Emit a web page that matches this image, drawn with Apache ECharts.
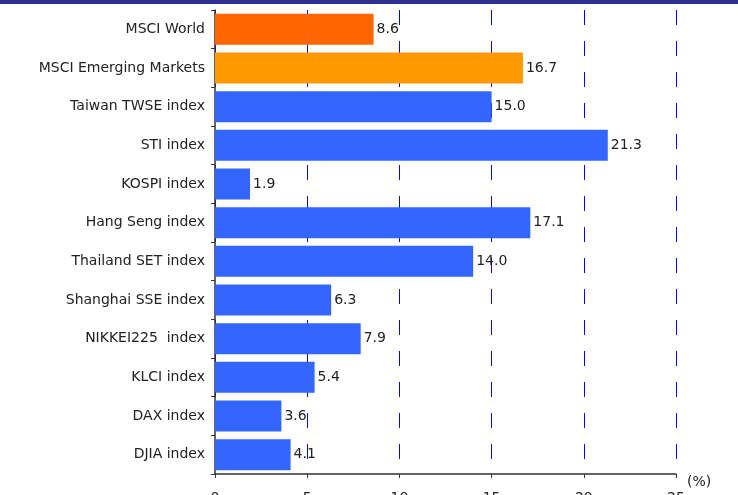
<!DOCTYPE html>
<html>
<head>
<meta charset="utf-8">
<script src="https://cdn.jsdelivr.net/npm/echarts@6/dist/echarts.min.js"></script>
<style>
  html, body { margin: 0; padding: 0; background: #fff; }
  #chart { width: 738px; height: 495px; }
</style>
</head>
<body>
<div id="chart"></div>
<script>
// Index returns (%), listed top to bottom
const categories = [
  'MSCI World', 'MSCI Emerging Markets', 'Taiwan TWSE index', 'STI index',
  'KOSPI index', 'Hang Seng index', 'Thailand SET index', 'Shanghai SSE index',
  'NIKKEI225  index', 'KLCI index', 'DAX index', 'DJIA index'
];
const values = [8.6, 16.7, 15.0, 21.3, 1.9, 17.1, 14.0, 6.3, 7.9, 5.4, 3.6, 4.1];
const barColors = ['#ff6600', '#ff9900', '#3366ff', '#3366ff', '#3366ff', '#3366ff',
                   '#3366ff', '#3366ff', '#3366ff', '#3366ff', '#3366ff', '#3366ff'];
const xTicks = [0, 5, 10, 15, 20, 25];

const FONT = 'DejaVu Sans';
const FS = 14;
const chart = echarts.init(document.getElementById('chart'), null, { renderer: 'canvas' });

chart.setOption({
  animation: false,
  backgroundColor: '#ffffff',
  textStyle: { fontFamily: FONT },
  grid: {
    left: 215, top: 10, width: 461, height: 464,
    containLabel: false,
    outerBoundsMode: 'none'
  },
  xAxis: {
    type: 'value',
    min: xTicks[0],
    max: xTicks[xTicks.length - 1],
    interval: 5,
    axisLine: { show: true, lineStyle: { color: '#333', width: 1.5 } },
    axisTick: { show: true, length: 4, lineStyle: { color: '#333' } },
    axisLabel: { margin: 17, fontSize: FS, color: '#222', fontFamily: FONT },
    splitLine: {
      show: true,
      lineStyle: { color: '#0000ff', width: 1, type: [15, 16] }
    }
  },
  yAxis: {
    type: 'category',
    inverse: true,
    data: categories,
    axisLine: { show: true, lineStyle: { color: '#333', width: 1.5 } },
    axisTick: { show: true, length: 4, lineStyle: { color: '#333' } },
    axisLabel: { margin: 10, fontSize: FS, color: '#222', fontFamily: FONT },
    splitLine: { show: false }
  },
  series: [{
    type: 'bar',
    data: values.map((v, i) => ({ value: v, itemStyle: { color: barColors[i] } })),
    barCategoryGap: '20%',
    label: {
      show: true,
      position: 'right',
      distance: 3,
      fontSize: FS,
      color: '#222',
      fontFamily: FONT,
      formatter: p => p.value.toFixed(1)
    }
  }],
  graphic: [
    { type: 'rect', left: 0, top: 0, shape: { width: 738, height: 4 }, style: { fill: '#2e3192' } },
    { type: 'text', left: 687, top: 475, style: { text: '(%)', fontSize: FS, fill: '#222', fontFamily: FONT } }
  ]
});
</script>
</body>
</html>
